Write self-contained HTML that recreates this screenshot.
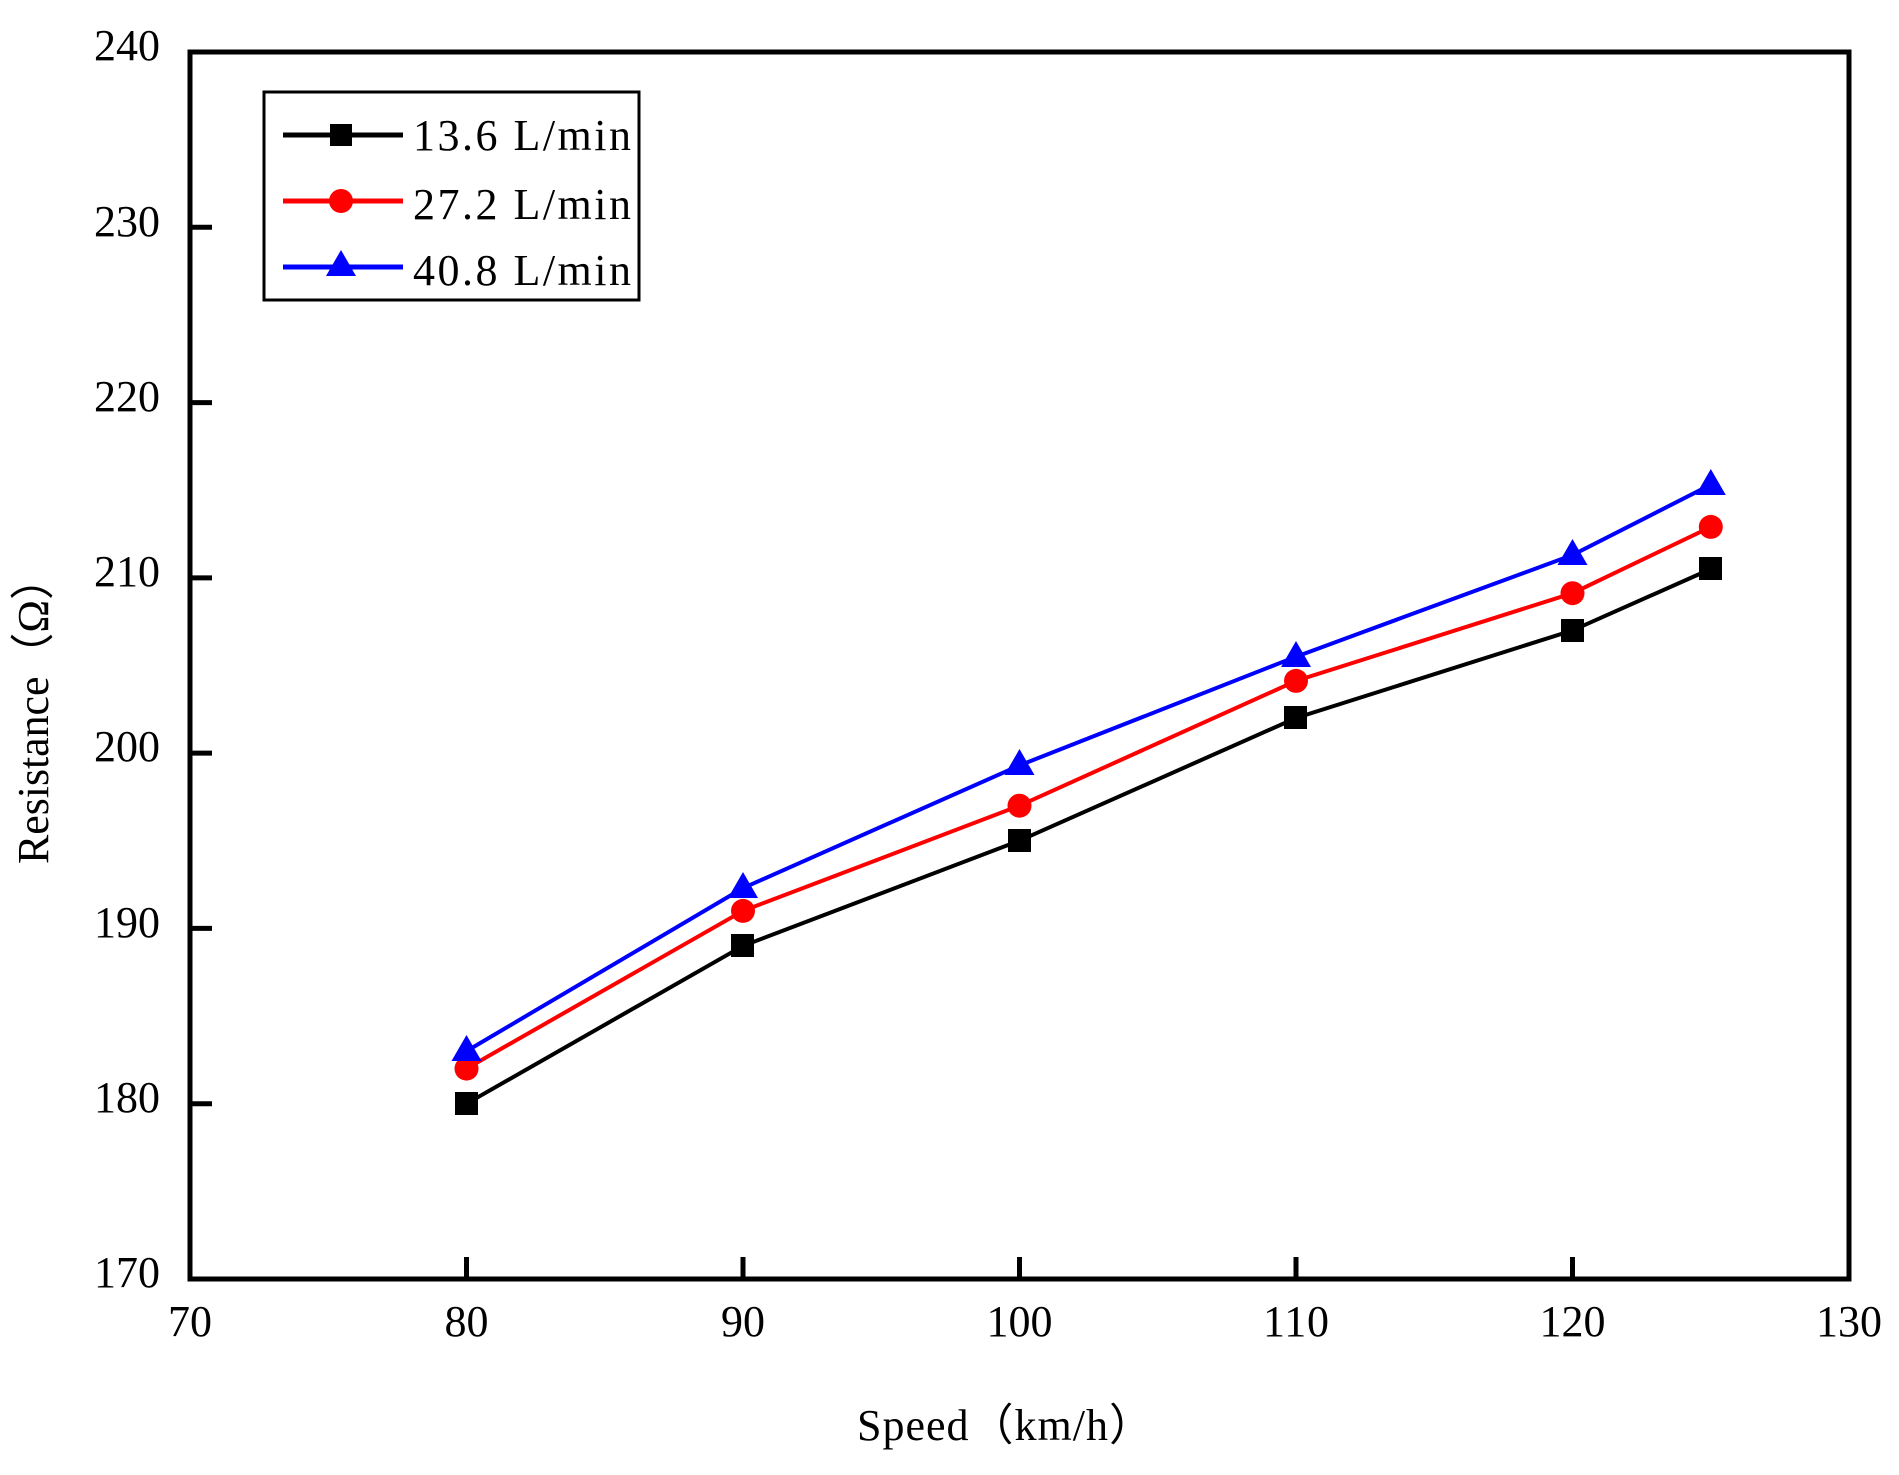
<!DOCTYPE html>
<html><head><meta charset="utf-8"><style>html,body{margin:0;padding:0;background:#fff}</style></head>
<body>
<svg width="1899" height="1470" xmlns="http://www.w3.org/2000/svg" font-family="Liberation Serif, serif" font-size="44">
<rect width="1899" height="1470" fill="#fff"/>
<g stroke="#000" stroke-width="5" fill="none">
<rect x="190" y="52" width="1659" height="1227"/>
<path d="M466.5 1279v-22M743 1279v-22M1019.5 1279v-22M1296 1279v-22M1572.5 1279v-22"/>
<path d="M190 227.3h22M190 402.6h22M190 577.9h22M190 753.1h22M190 928.4h22M190 1103.7h22"/>
</g>
<g text-anchor="end">
<text x="160" y="60" textLength="66">240</text><text x="160" y="236" textLength="66">230</text><text x="160" y="411" textLength="66">220</text>
<text x="160" y="586" textLength="66">210</text><text x="160" y="761" textLength="66">200</text><text x="160" y="937" textLength="66">190</text>
<text x="160" y="1112" textLength="66">180</text><text x="160" y="1287" textLength="66">170</text>
</g>
<g text-anchor="middle">
<text x="190" y="1336" textLength="44">70</text><text x="466.5" y="1336" textLength="44">80</text><text x="743" y="1336" textLength="44">90</text>
<text x="1019.5" y="1336" textLength="66">100</text><text x="1296" y="1336" textLength="66">110</text><text x="1572.5" y="1336" textLength="66">120</text><text x="1849" y="1336" textLength="66">130</text>
<text x="1005" y="1440" textLength="296">Speed（km/h）</text>
<text transform="translate(48,710) rotate(-90)" textLength="308">Resistance（Ω）</text>
</g>
<polyline fill="none" stroke="#000" stroke-width="4" points="466.5,1103.7 743,945.9 1019.5,840.7 1296,718.0 1572.5,630.4 1710.8,569.0"/>
<polyline fill="none" stroke="#f00" stroke-width="4" points="466.5,1068.6 743,910.9 1019.5,805.7 1296,680.9 1572.5,593.2 1710.8,526.9"/>
<polyline fill="none" stroke="#00f" stroke-width="4" points="466.5,1051.1 743,888.1 1019.5,765.4 1296,656.7 1572.5,555.0 1710.8,484.7"/>
<g fill="#000">
<rect x="455" y="1092" width="23" height="23"/><rect x="731" y="934" width="23" height="23"/>
<rect x="1008" y="829" width="23" height="23"/><rect x="1284" y="706" width="23" height="23"/>
<rect x="1561" y="619" width="23" height="23"/><rect x="1699" y="557" width="23" height="23"/>
</g>
<g fill="#f00">
<circle cx="466.5" cy="1068.6" r="12"/><circle cx="743" cy="910.9" r="12"/><circle cx="1019.5" cy="805.7" r="12"/>
<circle cx="1296" cy="680.9" r="12"/><circle cx="1572.5" cy="593.2" r="12"/><circle cx="1710.8" cy="526.9" r="12"/>
</g>
<g fill="#00f">
<path d="M466.5 1035l15 26h-30z"/><path d="M743 872l15 26h-30z"/><path d="M1019.5 749l15 26h-30z"/>
<path d="M1296 641l15 26h-30z"/><path d="M1572.5 539l15 26h-30z"/><path d="M1710.8 469l15 26h-30z"/>
</g>
<rect x="264" y="92" width="375" height="208" fill="#fff" stroke="#000" stroke-width="3"/>
<line x1="283" y1="135" x2="403" y2="135" stroke="#000" stroke-width="5"/>
<rect x="330" y="124" width="22" height="22" fill="#000"/>
<line x1="283" y1="201" x2="403" y2="201" stroke="#f00" stroke-width="5"/>
<circle cx="341" cy="201" r="12" fill="#f00"/>
<line x1="283" y1="267" x2="403" y2="267" stroke="#00f" stroke-width="5"/>
<path d="M341 250l15 26h-30z" fill="#00f"/>
<text x="413" y="150" textLength="218">13.6 L/min</text>
<text x="413" y="219" textLength="218">27.2 L/min</text>
<text x="413" y="285" textLength="218">40.8 L/min</text>
</svg>
</body></html>
